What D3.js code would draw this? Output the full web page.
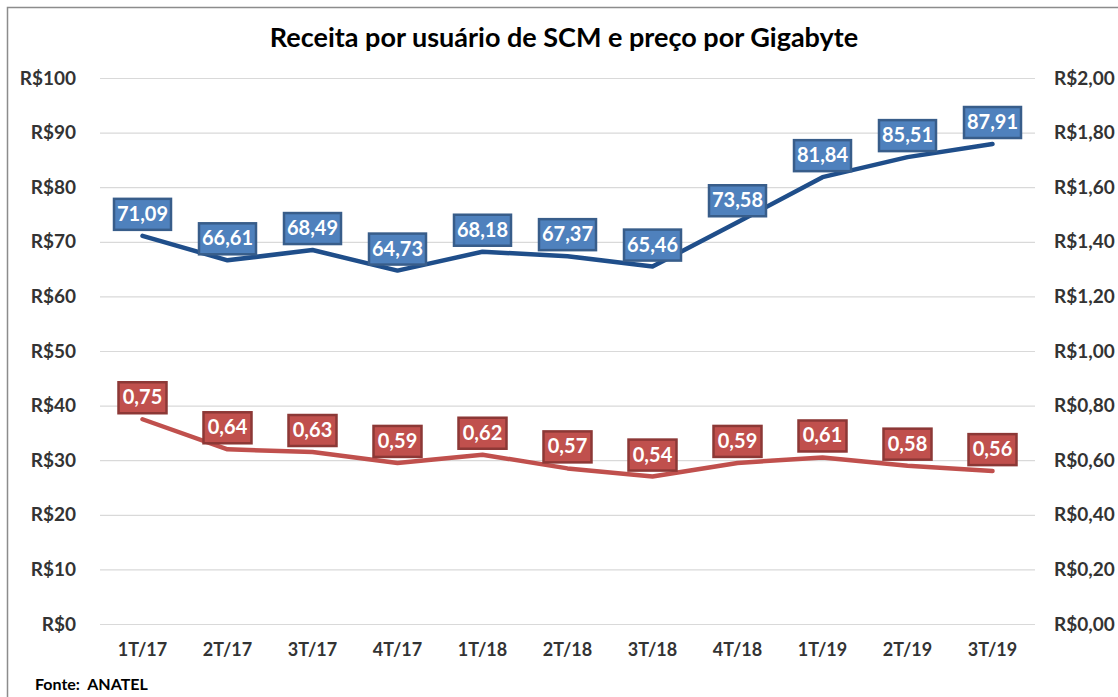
<!DOCTYPE html>
<html>
<head>
<meta charset="utf-8">
<script src="https://cdn.jsdelivr.net/npm/d3@7"></script>
<style>
  body { margin: 0; background: #fff; }
  text { font-family: Lato, "Open Sans", sans-serif; font-weight: bold; }
</style>
</head>
<body>
<script>
// chart data
var quarters = ['1T/17', '2T/17', '3T/17', '4T/17', '1T/18', '2T/18', '3T/18', '4T/18', '1T/19', '2T/19', '3T/19'];
var receita = [71.09, 66.61, 68.49, 64.73, 68.18, 67.37, 65.46, 73.58, 81.84, 85.51, 87.91];
var precoGB = [0.75, 0.64, 0.63, 0.59, 0.62, 0.57, 0.54, 0.59, 0.61, 0.58, 0.56];
var leftTicks = [0, 10, 20, 30, 40, 50, 60, 70, 80, 90, 100];
var rightTicks = [0, 0.2, 0.4, 0.6, 0.8, 1.0, 1.2, 1.4, 1.6, 1.8, 2.0];

var W = 1118, H = 697;
var plot = {left: 100, right: 1035, top: 78, bottom: 624};

var ptBR = d3.formatLocale({decimal: ',', thousands: '.', grouping: [3], currency: ['R$', '']});
var fmt2 = ptBR.format('.2f');

var svg = d3.select('body').append('svg')
    .attr('width', W)
    .attr('height', H);

// outer frame
svg.append('rect')
    .attr('x', 7.5).attr('y', 7.5)
    .attr('width', W + 20).attr('height', H + 20)
    .attr('fill', 'none')
    .attr('stroke', '#8c8c8c')
    .attr('stroke-width', 1.5);

// scales
var x = d3.scaleBand().domain(quarters).range([plot.left, plot.right]);
var yL = d3.scaleLinear().domain([0, 100]).range([plot.bottom, plot.top]);
var yR = d3.scaleLinear().domain([0, 2]).range([plot.bottom, plot.top]);
var cx = function(d) { return x(d) + x.bandwidth() / 2; };

// gridlines
svg.append('g')
    .attr('transform', 'translate(' + plot.left + ',0)')
    .call(d3.axisLeft(yL).tickValues(leftTicks).tickSize(-(plot.right - plot.left)).tickFormat(''))
    .call(function(g) { g.select('.domain').remove(); })
    .selectAll('line').attr('stroke', '#d9d9d9').attr('stroke-width', 1.2);

// left axis
var gl = svg.append('g')
    .attr('transform', 'translate(' + 76 + ',0)')
    .call(d3.axisLeft(yL).tickValues(leftTicks).tickSize(0).tickPadding(0)
        .tickFormat(function(d) { return 'R$' + d; }));
gl.select('.domain').remove();
gl.selectAll('text').attr('font-size', 19).attr('fill', '#333').attr('font-family', 'Lato');

// right axis
var gr = svg.append('g')
    .attr('transform', 'translate(' + 1054 + ',0)')
    .call(d3.axisRight(yR).tickValues(rightTicks).tickSize(0).tickPadding(0)
        .tickFormat(function(d) { return 'R$' + fmt2(d); }));
gr.select('.domain').remove();
gr.selectAll('text').attr('font-size', 19).attr('fill', '#333').attr('font-family', 'Lato');

// x axis
var gx = svg.append('g')
    .attr('transform', 'translate(0,' + 640 + ')')
    .call(d3.axisBottom(x).tickSize(0).tickPadding(0));
gx.select('.domain').remove();
gx.selectAll('text').attr('font-size', 18).attr('fill', '#333').attr('font-family', 'Lato').attr('dy', '0.9em');

// lines
var lineL = d3.line().x(function(d, i) { return cx(quarters[i]); }).y(function(d) { return yL(d); });
var lineR = d3.line().x(function(d, i) { return cx(quarters[i]); }).y(function(d) { return yR(d); });

svg.append('path')
    .datum(receita)
    .attr('d', lineL)
    .attr('fill', 'none')
    .attr('stroke', '#1f4e8a')
    .attr('stroke-width', 4.5)
    .attr('stroke-linecap', 'round')
    .attr('stroke-linejoin', 'round');

svg.append('path')
    .datum(precoGB)
    .attr('d', lineR)
    .attr('fill', 'none')
    .attr('stroke', '#c0504d')
    .attr('stroke-width', 4.5)
    .attr('stroke-linecap', 'round')
    .attr('stroke-linejoin', 'round');

// data labels
function addLabels(data, yScale, fill, stroke, boxW) {
    var g = svg.append('g').selectAll('g')
        .data(data)
        .enter()
        .append('g')
        .attr('transform', function(d, i) {
            return 'translate(' + cx(quarters[i]) + ',' + (yScale(d) - 6) + ')';
        });
    g.append('rect')
        .attr('x', -boxW / 2)
        .attr('y', -31)
        .attr('width', boxW)
        .attr('height', 31)
        .attr('fill', fill)
        .attr('stroke', stroke)
        .attr('stroke-width', 2.5);
    g.append('text')
        .attr('x', 0)
        .attr('y', -9)
        .attr('text-anchor', 'middle')
        .attr('font-size', 20)
        .attr('fill', '#fff')
        .text(function(d) { return fmt2(d); });
}
addLabels(receita, yL, '#4f81bd', '#385d8a', 57);
addLabels(precoGB, yR, '#c0504d', '#8c3836', 48);

// title
svg.append('text')
    .attr('x', 564)
    .attr('y', 47)
    .attr('text-anchor', 'middle')
    .attr('font-size', 27)
    .attr('fill', '#000')
    .text('Receita por usuário de SCM e preço por Gigabyte');

// source
svg.append('text')
    .attr('x', 35)
    .attr('y', 690)
    .attr('font-size', 16)
    .attr('fill', '#000')
    .attr('xml:space', 'preserve')
    .style('white-space', 'pre')
    .text('Fonte:  ANATEL');
</script>
</body>
</html>
